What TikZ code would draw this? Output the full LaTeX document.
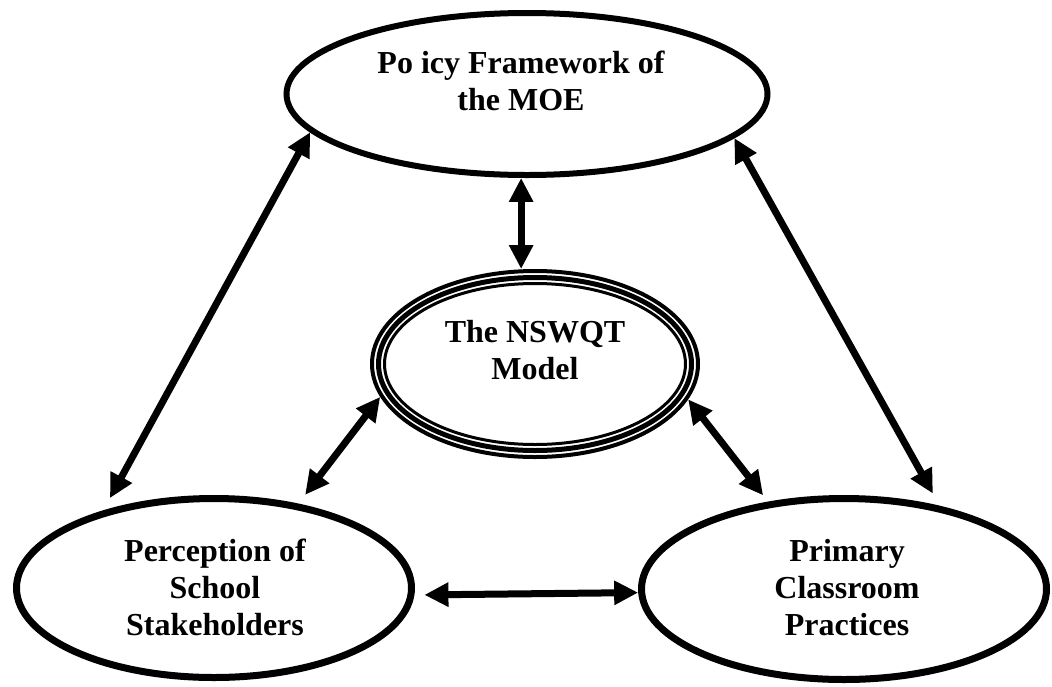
\documentclass[tikz,border=0pt]{standalone}
\usepackage{fontspec}
\setmainfont{Liberation Serif}
\usetikzlibrary{shapes.geometric,arrows.meta}

\tikzset{
  oval/.style={ellipse, draw=black, inner sep=0pt, line width=#1},
  caption/.style={font=\bfseries\fontsize{32}{37}\selectfont, align=center, inner sep=0pt},
  link/.style={line width=7pt,
    {Triangle[length=24pt,width=23pt]}-{Triangle[length=24pt,width=23pt]}},
}

\begin{document}
\begin{tikzpicture}[x=1pt,y=-1pt]
  \useasboundingbox (0,0) rectangle (1052,686);

  % the four ovals
  \node[oval=6pt, minimum width=481pt, minimum height=162pt] (moe) at (527,94) {};
  \node[oval=4pt, minimum width=326pt, minimum height=186pt] (nswqt) at (535,364) {};
  \node[oval=7pt, minimum width=395pt, minimum height=179pt] (stake) at (214,588) {};
  \node[oval=7pt, minimum width=405pt, minimum height=181pt] (class) at (844,589) {};

  % inner rings of the model oval
  \draw[line width=5pt] (nswqt.center) ellipse [x radius=156.5pt, y radius=86.5pt];
  \draw[line width=3pt] (nswqt.center) ellipse [x radius=150.5pt, y radius=80.5pt];

  % captions
  \node[caption] (moe-t) at (521,81) {Po icy Framework of\\the MOE};
  \node[caption] (nswqt-t) at (535,350) {The NSWQT\\Model};
  \node[caption] (stake-t) at (215,587) {Perception of\\School\\Stakeholders};
  \node[caption] (class-t) at (847,588) {Primary\\Classroom\\Practices};

  % two-way links
  \draw[link, shorten >=14pt] (moe.190.6) -- (stake.145);
  \draw[link, shorten >=14pt] (moe.348.5) -- (class.41.5);
  \draw[link] (moe.266.6) -- (moe.266.6 |- nswqt.north);
  \draw[link, shorten >=11pt] (nswqt.192.5) -- (stake.45);
  \draw[link, shorten >=8pt] (nswqt.347.4) -- (class.131);
  \draw[link, shorten <=10pt] (stake.358.5) -- (class.181);
\end{tikzpicture}
\end{document}
